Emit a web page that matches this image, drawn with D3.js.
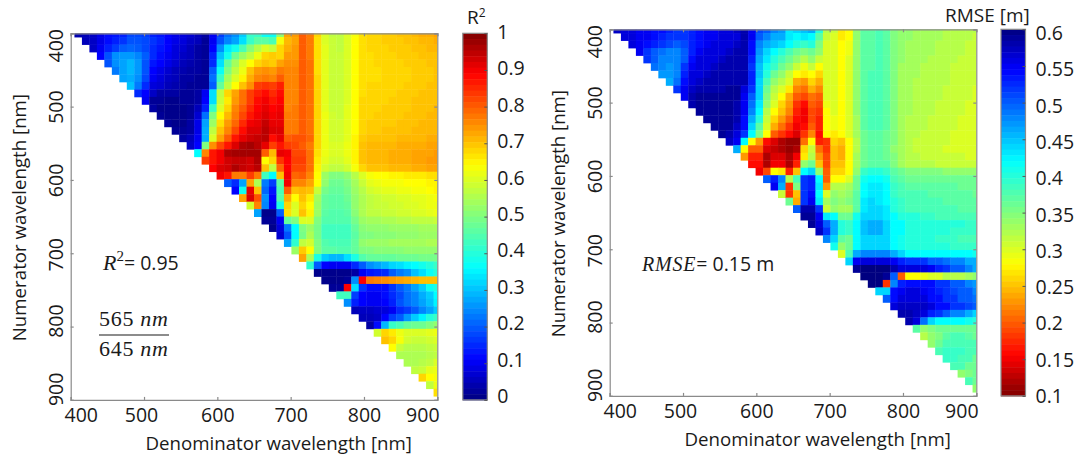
<!DOCTYPE html>
<html lang="en">

<head>
	<meta charset="UTF-8">
	<title>Band ratio maps</title>
	<script src="https://d3js.org/d3.v7.min.js"></script>
	<style>
		html, body { margin: 0; background: #fff; }
		svg { display: block; }
		text { font-family: "Open Sans", sans-serif; fill: #1a1a1a; }
		.math { font-family: "Liberation Serif", serif; }
	</style>
</head>

<body>
	<svg id="chart" width="1077" height="456"></svg>

	<script>
		const axisTicks = [400, 500, 600, 700, 800, 900];
		const sampleCount = 50; // 50 samples between 400 and 900 nm
		const r2Ticks = [1, 0.9, 0.8, 0.7, 0.6, 0.5, 0.4, 0.3, 0.2, 0.1, 0];
		const rmseTicks = [0.6, 0.55, 0.5, 0.45, 0.4, 0.35, 0.3, 0.25, 0.2, 0.15, 0.1];

		// jet colormap
		const jetStops = [0, 0.11, 0.36, 0.64, 0.89, 1];
		const jetColors = ["#000080", "#0000ff", "#00ffff", "#ffff00", "#ff0000", "#800000"];

		// R2 in percent. Row = numerator sample, the first value of row i is denominator sample i + 1
		const r2Rows = [
			[4,5,6,9,12,13,14,18,18,17,14,13,11,9,8,7,5,3,10,17,22,25,31,42, 42,37,37,52,73,74,80,77, 68,60,57,57,60,63,67,68,68,69,69,70,70,71,72,72,73],
			[5,6,9,12,14,16,19,19,18,16,14,11,9,8,6,5,2,10,19,24,27,33,42, 46,46,44,63,71,73,80,77, 67,60,58,57,60,64,67,68,68,69,69,69,70,70,71,71,72],
			[6,10,14,17,20,21,20,18,15,13,11,8,7,5,3,2,11,25,34,38,44,51, 56,60,58,68,72,74,80,77, 67,61,58,57,60,64,67,68,68,68,69,69,69,70,70,71,71],
			[11,19,25,26,26,24,20,15,12,10,8,6,5,3,2,14,30,38,48,53,57, 62,68,69,68,74,74,80,77, 67,61,58,58,60,64,67,67,68,68,68,69,69,69,70,70,70],
			[19,25,27,29,26,19,13,11,9,7,5,4,3,2,15,33,47,54,60,64, 68,70,69,73,75,75,80,78, 67,61,58,58,60,64,67,67,68,68,68,68,69,69,69,70,70],
			[23,27,29,26,19,11,9,7,5,4,3,3,2,20,37,50,57,62,70, 74,75,74,77,76,76,80,78, 67,61,58,58,60,64,67,67,67,68,68,68,68,69,69,69,70],
			[27,28,25,18,10,8,6,5,3,3,2,2,22,42,54,60,65,72, 76,77,76,80,76,76,80,78, 68,61,58,58,60,64,67,67,67,68,68,68,68,69,69,69,70],
			[30,23,15,8,7,5,4,3,2,2,2,20,47,57,64,70,75, 83,84,83,86,76,76,80,78, 68,61,58,58,60,64,67,68,68,68,68,68,69,69,69,70,70],
			[15,11,6,3,3,3,2,2,3,10,33,57,68,73,78,83, 86,88,85,88,76,76,80,78, 68,61,58,58,60,64,67,68,68,68,68,69,69,69,70,70,70],
			[10,2,2,1,1,2,2,3,11,33,58,66,74,78,83, 88,90,87,89,76,76,80,78, 68,61,58,58,60,64,68,68,68,68,69,69,69,70,70,70,70],
			[3,1,1,1,1,2,5,14,42,60,68,76,80,85, 89,91,89,90,76,77,80,78, 68,61,58,58,61,64,68,68,68,69,69,69,69,70,70,70,71],
			[2,1,1,1,2,7,22,50,64,71,77,82,87, 90,92,90,91,77,77,80,78, 68,62,59,58,61,64,68,68,69,69,69,69,70,70,70,71,71],
			[2,1,1,3,9,27,53,67,74,79,85,90, 91,94,91,91,77,77,80,78, 68,62,59,59,61,64,68,69,69,69,69,70,70,70,71,71,71],
			[2,2,3,9,28,57,70,76,82,88,92, 92,95,92,92,77,77,80,78, 68,62,59,59,61,64,68,69,69,70,70,70,70,71,71,71,71],
			[3,5,10,28,60,73,80,87,91,93, 94,95,88,91,80,81,81,79, 68,62,59,59,61,65,69,70,70,70,70,71,71,71,71,72,72],
			[6,11,50,75,82,87,92,96,97, 95,91,83,87,83,82,80,77, 68,62,60,60,62,65,70,71,71,71,71,72,72,72,72,73,73],
			[36,76,87,90,96,97,97,97, 97,80,71,91,90,82,82,78, 67,62,60,60,62,65,70,71,71,71,72,72,72,73,73,73,74],
			[83,87,90,93,94,94,93, 96,64,68,84,89,83,83,78, 66,61,59,59,61,65,70,71,71,71,72,72,72,73,73,74,74],
			[89,92,93,96,94,93, 95,70,57,79,89,82,82,78, 65,59,57,57,59,63,68,70,70,70,71,71,71,72,72,73,73],
			[90,87,77,77,83, 77,43,36,70,90,79,80,76, 64,53,50,50,52,56,60,63,64,64,65,65,66,66,66,67,67],
			[20,15,27,73, 55,23,17,46,90,76,76,73, 64,52,48,48,50,54,58,61,62,63,63,63,64,64,64,65,65],
			[11,38,91, 70,21,13,44,80,70,71,70, 58,49,47,47,49,53,56,59,60,61,61,62,62,63,63,64,65],
			[73,92, 81,25,11,45,72,64,70,66, 54,47,46,46,48,52,55,57,58,59,59,60,60,61,61,62,63],
			[59, 76,24,10,39,68,60,68,64, 53,47,46,46,47,52,55,57,58,58,59,59,60,60,61,62,62],
			[27,1,1,20,67,60,70,65, 53,46,45,45,46,51,55,57,57,58,58,59,59,60,60,61,62],
			[2,2,10,47,50,60,60,50,45,45,45,45,49,53,54,54,55,55,56,56,57,57,57,58],
			[1,8,23,36,50,53,49,43,43,43,43,47,51,52,52,52,53,53,53,53,54,54,54],
			[7,19,36,49,55,49,43,43,43,43,46,50,50,51,51,51,52,52,52,53,53,53],
			[27,41,57,59,50,45,44,44,44,47,52,53,53,53,54,54,54,54,54,55,55],
			[53,69,64,50,46,46,45,45,47,50,50,51,51,51,51,52,52,52,52,52],
			[73,55,39,31,29,29,33,39,45,47,47,47,47,48,48,48,49,49,49],
			[41,20,11,10,10,10,15,20,25,27,29,32,33,35,36,38,40,42],
			[1,1,1,1,1,3,10,13,14,15,20,23,25,30,33,37,40],
			[1,1,1,2,25,89,77,76,75,74,73,72,71,70,70,70],
			[2,2,89,33,16,12,12,12,16,20,23,27,31,37,39],
			[43,43,17,11,10,10,12,15,18,22,24,28,31,36],
			[25,14,11,10,10,11,14,19,22,24,27,30,35],
			[5,6,6,7,8,10,15,17,20,24,27,31],
			[5,5,6,11,17,20,26,31,35,40,42],
			[3,12,29,42,44,47,48,48,50,52],
			[59,68,66,62,60,60,60,61,62],
			[70,68,63,59,58,58,59,60],
			[64,58,56,56,56,57,58],
			[55,55,55,55,56,57],
			[55,55,56,57,60],
			[57,58,61,62],
			[68,64,63],
			[57,62],
			[67]
		];

		// RMSE in cm, same layout as r2Rows
		const rmseRows = [
			[57,56,56,55,55,54,54,53,52,52,53,54,55,55,56,56,57,58,55,51,50,48,47,43, 44,45,46,40,32,31,27,28, 34,37,37,38,37,35,34,34,33,33,33,33,32,32,32,32,32],
			[56,56,55,55,54,53,52,52,52,53,54,55,55,56,56,56,58,55,50,48,46,46,43, 42,43,42,37,31,30,27,28, 34,37,37,38,37,35,34,34,33,33,33,33,32,32,32,32,31],
			[56,55,54,53,52,51,50,51,53,54,55,56,56,56,57,58,54,48,46,45,44,42, 40,39,40,35,30,30,28,29, 34,37,37,38,37,35,34,33,33,33,33,32,32,32,32,31,31],
			[55,52,50,49,48,48,50,53,55,56,56,56,57,58,58,54,47,44,42,40,38, 36,35,36,34,30,30,28,29, 34,37,37,38,37,35,34,33,33,33,33,32,32,32,32,31,31],
			[52,50,48,48,48,50,54,56,56,56,57,58,58,58,53,46,43,40,38,36, 34,32,34,31,30,30,28,30, 34,37,37,38,37,35,34,33,33,33,32,32,32,32,31,31,31],
			[49,48,47,48,52,55,56,56,57,58,58,58,58,52,45,41,39,36,34, 31,29,31,28,30,30,28,30, 34,37,37,38,37,35,33,33,33,32,32,32,32,31,31,31,31],
			[47,47,48,53,56,56,57,58,58,58,58,58,53,45,40,36,34,31, 28,27,28,26,30,30,28,30, 34,37,38,38,37,35,33,33,33,32,32,32,32,31,31,31,31],
			[46,49,54,56,57,58,58,58,58,58,58,53,44,38,34,32,30, 24,23,26,24,30,30,28,30, 34,37,38,38,37,35,33,33,32,32,32,32,32,31,31,31,31],
			[52,55,57,58,58,58,58,59,59,56,52,44,36,32,30,27, 22,21,24,22,30,30,28,30, 34,37,38,38,37,35,33,33,32,32,32,32,31,31,31,31,30],
			[55,58,59,59,59,59,59,59,55,50,44,35,31,28,24, 20,19,21,20,30,30,28,30, 34,37,38,38,37,35,33,33,32,32,32,32,31,31,31,31,30],
			[58,59,59,59,59,59,58,55,49,43,34,30,26,23, 18,16,20,19,29,30,28,30, 34,37,38,38,37,35,33,33,32,32,32,31,31,31,31,30,30],
			[59,59,59,59,59,58,55,48,42,32,28,25,22, 17,15,19,18,28,30,28,30, 34,37,38,38,37,35,33,33,32,32,32,31,31,31,31,30,30],
			[59,59,59,59,58,54,46,40,31,26,23,20, 16,15,19,17,28,29,28,30, 33,37,38,38,37,35,33,32,32,32,31,31,31,31,30,30,30],
			[59,59,59,57,54,44,37,30,24,21,18, 15,16,20,17,28,29,28,30, 33,37,38,38,37,35,33,32,32,32,31,31,31,31,30,30,30],
			[59,58,56,52,42,35,28,20,18,16, 14,18,22,16,28,27,28,30, 33,36,37,37,36,35,33,32,32,31,31,31,31,30,30,30,30],
			[57,55,42,28,23,16,14,12,11, 11,21,28,17,18,26,25,28, 32,36,37,37,36,35,33,32,31,31,31,31,31,30,30,30,30],
			[46,28,20,20,14,13,12,11, 12,26,31,21,18,25,24,28, 32,36,37,37,36,34,33,32,31,31,31,31,30,30,30,30,30],
			[23,17,17,12,14,14,12, 15,27,32,23,19,25,24,28, 33,36,37,37,36,35,33,32,32,31,31,31,31,31,31,30,30],
			[16,16,12,15,15,12, 17,34,36,25,19,25,25,28, 33,36,37,37,37,35,33,32,32,32,32,31,31,31,31,31,31],
			[15,19,28,27,17, 25,42,44,34,20,26,26,28, 34,39,40,40,39,37,36,35,35,35,35,35,34,34,34,34,34],
			[50,53,48,32, 38,52,53,42,20,28,28,30, 36,41,42,42,41,38,37,36,36,36,36,36,36,36,36,36,36],
			[55,46,18, 35,52,53,43,23,32,32,33, 36,42,43,43,42,39,38,37,37,37,37,37,37,37,36,36,36],
			[31,18, 25,52,54,42,30,34,33,34, 37,42,43,43,42,39,38,38,38,38,37,37,37,37,37,37,36],
			[36, 24,52,55,43,33,35,34,35, 37,43,44,43,42,40,39,38,38,38,38,38,37,37,37,37,37],
			[50,58,58,52,31,34,33,33, 37,43,44,44,43,40,39,38,38,38,38,38,38,38,37,37,37],
			[59,59,55,43,42,36,36,41,44,44,44,43,42,40,40,40,39,39,38,38,38,38,38,38],
			[59,56,50,46,40,39,42,45,46,46,44,42,42,40,40,40,40,40,40,40,40,39,39],
			[57,52,46,40,39,42,45,46,46,44,42,42,40,40,40,40,40,40,39,39,39,39],
			[48,44,37,36,42,44,44,44,44,42,41,40,40,40,40,39,39,39,38,38,38],
			[41,34,36,42,44,44,44,44,42,41,40,40,40,40,40,40,39,39,39,39],
			[30,38,46,48,48,48,48,46,44,42,42,42,42,42,42,42,42,42,41],
			[44,55,56,56,56,56,55,53,52,52,52,50,50,49,48,48,46,46],
			[59,60,60,60,60,58,56,56,56,56,55,53,52,50,50,48,46],
			[60,60,60,59,50,20,28,28,29,30,30,32,32,32,33,34],
			[60,60,18,48,53,54,54,54,54,52,52,50,50,48,47],
			[44,44,54,55,56,56,55,54,53,52,51,50,50,48],
			[50,54,56,56,56,56,54,54,52,52,50,50,49],
			[56,57,57,57,57,56,54,54,52,52,51,50],
			[58,58,57,56,53,52,50,48,48,46,44],
			[58,56,49,44,42,42,42,42,41,40],
			[37,34,35,36,36,36,36,36,36],
			[32,34,35,37,38,38,37,36],
			[34,36,38,38,38,38,38],
			[38,39,39,39,38,38],
			[39,39,38,38,36],
			[38,38,36,36],
			[34,35,36],
			[38,36],
			[34]
		];

		const svg = d3.select("#chart");
		const jet = d3.scaleLinear().domain(jetStops).range(jetColors);
		const frameColor = "#8a8a8a";
		const step = 500 / (sampleCount - 1);

		// tick labels were hand placed in the original figure
		const xLabelNudge = [10, -3, 0, 0, 0, -15];
		const yLabelNudge = [12, 0, 0, 1, -6, -11];

		function drawPanel(id, left, top, rows, position) {
			const size = 366.6;
			const x = d3.scaleLinear().domain([400, 900]).range([left, left + size]);
			const y = d3.scaleLinear().domain([400, 900]).range([top, top + size]);
			const cellW = x(400 + step) - x(400);
			const cellH = y(400 + step) - y(400);

			svg.append("clipPath").attr("id", id)
				.append("rect").attr("x", left).attr("y", top).attr("width", size).attr("height", size);

			const cells = [];
			rows.forEach((row, i) => {
				row.forEach((value, k) => {
					cells.push({ i: i, j: i + 1 + k, t: position(value) });
				});
			});

			svg.append("g").attr("clip-path", `url(#${id})`)
				.selectAll("rect").data(cells).join("rect")
				.attr("x", d => x(400 + d.j * step) - cellW / 2)
				.attr("y", d => y(400 + d.i * step) - cellH / 2)
				.attr("width", cellW + 0.4)
				.attr("height", cellH + 0.4)
				.attr("fill", d => jet(d.t));

			const bottom = d3.axisBottom(x).tickValues(axisTicks).tickSize(-3).tickPadding(8);
			const leftAxis = d3.axisLeft(y).tickValues(axisTicks).tickSize(-3).tickPadding(8);
			const topAxis = d3.axisTop(x).tickValues(axisTicks).tickSize(-3).tickFormat("");
			const rightAxis = d3.axisRight(y).tickValues(axisTicks).tickSize(-3).tickFormat("");

			const gb = svg.append("g").attr("transform", `translate(0,${top + size})`).call(bottom);
			const gl = svg.append("g").attr("transform", `translate(${left},0)`).call(leftAxis);
			const gt = svg.append("g").attr("transform", `translate(0,${top})`).call(topAxis);
			const gr = svg.append("g").attr("transform", `translate(${left + size},0)`).call(rightAxis);

			[gb, gl, gt, gr].forEach(g => {
				g.selectAll("path, line").attr("stroke", frameColor).attr("stroke-width", 1.2);
			});

			gb.selectAll("text")
				.style("font-size", "19.5px")
				.style("font-family", '"Open Sans", sans-serif')
				.attr("fill", "#1a1a1a")
				.attr("dx", (d, i) => xLabelNudge[i]);

			gl.selectAll("text")
				.style("font-size", "19.5px")
				.style("font-family", '"Open Sans", sans-serif')
				.attr("fill", "#1a1a1a")
				.attr("text-anchor", "middle")
				.attr("dy", null)
				.attr("x", null)
				.attr("transform", (d, i) => `translate(-7.5,${yLabelNudge[i]}) rotate(-90)`);

			svg.append("text")
				.attr("x", left + 208)
				.attr("y", top + size + 50)
				.attr("text-anchor", "middle")
				.style("font-size", "18.7px")
				.text("Denominator wavelength [nm]");

			svg.append("text")
				.attr("transform", `translate(${left - 44.7},${top + size / 2 + 1}) rotate(-90)`)
				.attr("text-anchor", "middle")
				.style("font-size", "18.7px")
				.text("Numerator wavelength [nm]");
		}

		function drawColorbar(left, top, domainTop, domainBottom, ticks, position, labelFirst, labelLast) {
			const width = 24.5;
			const height = 366.6;
			const y = d3.scaleLinear().domain([domainTop, domainBottom]).range([top, top + height]);
			const levels = d3.range(64);
			const bandH = height / levels.length;

			svg.append("g").selectAll("rect").data(levels).join("rect")
				.attr("x", left)
				.attr("y", d => top + d * bandH)
				.attr("width", width)
				.attr("height", bandH + 0.5)
				.attr("fill", d => jet(position(domainTop + (domainBottom - domainTop) * (d + 0.5) / levels.length)));

			svg.append("rect")
				.attr("x", left).attr("y", top).attr("width", width).attr("height", height)
				.attr("fill", "none").attr("stroke", frameColor).attr("stroke-width", 1.2);

			const axis = d3.axisRight(y).tickValues(ticks).tickSize(-3).tickFormat("");
			const g = svg.append("g").attr("transform", `translate(${left + width},0)`).call(axis);
			g.select("path").remove();
			g.selectAll("line").attr("stroke", "#555");

			const labelY = d3.scaleLinear().domain([domainTop, domainBottom]).range([labelFirst, labelLast]);
			svg.append("g").selectAll("text").data(ticks).join("text")
				.attr("x", left + width + 10)
				.attr("y", d => labelY(d))
				.attr("dy", "0.36em")
				.style("font-size", "19.5px")
				.text(d => d);
		}

		drawPanel("clipLeft", 70.7, 33.3, r2Rows, v => v / 100);
		drawPanel("clipRight", 609.7, 29.3, rmseRows, v => (60 - v) / 50);

		drawColorbar(462.8, 33.3, 1, 0, r2Ticks, v => v, 32, 396);
		drawColorbar(1001, 29.3, 0.6, 0.1, rmseTicks, v => (0.6 - v) / 0.5, 33, 396);

		// colorbar titles
		const r2Title = svg.append("text").attr("x", 467).attr("y", 24).style("font-size", "19px");
		r2Title.append("tspan").text("R");
		r2Title.append("tspan").attr("dy", -7).style("font-size", "12px").text("2");
		svg.append("text").attr("x", 945).attr("y", 22).style("font-size", "19px").text("RMSE [m]");

		// annotations
		const r2Note = svg.append("text").attr("x", 103).attr("y", 270).attr("class", "math").style("font-size", "22px");
		r2Note.append("tspan").style("font-style", "italic").text("R");
		r2Note.append("tspan").attr("dy", -9).style("font-size", "15px").text("2");
		r2Note.append("tspan").attr("dy", 9).style("font-family", '"Open Sans", sans-serif').style("font-size", "19.5px").text("= 0.95");

		const fraction = svg.append("g");
		const fractionTop = fraction.append("text").attr("x", 99).attr("y", 326).attr("class", "math")
			.style("font-size", "22px").style("letter-spacing", "0.7px");
		fractionTop.append("tspan").text("565 ");
		fractionTop.append("tspan").style("font-style", "italic").text("nm");
		const fractionBottom = fraction.append("text").attr("x", 99).attr("y", 356).attr("class", "math")
			.style("font-size", "22px").style("letter-spacing", "0.7px");
		fractionBottom.append("tspan").text("645 ");
		fractionBottom.append("tspan").style("font-style", "italic").text("nm");
		fraction.append("line").attr("x1", 99).attr("x2", 169).attr("y1", 335).attr("y2", 335)
			.attr("stroke", "#1a1a1a").attr("stroke-width", 1.2);

		const rmseNote = svg.append("text").attr("x", 642).attr("y", 271).attr("class", "math").style("font-size", "20px");
		rmseNote.append("tspan").style("font-style", "italic").style("letter-spacing", "0.8px").text("RMSE");
		rmseNote.append("tspan").style("font-family", '"Open Sans", sans-serif').style("font-size", "19.5px").text("= 0.15 m");
	</script>
</body>

</html>
